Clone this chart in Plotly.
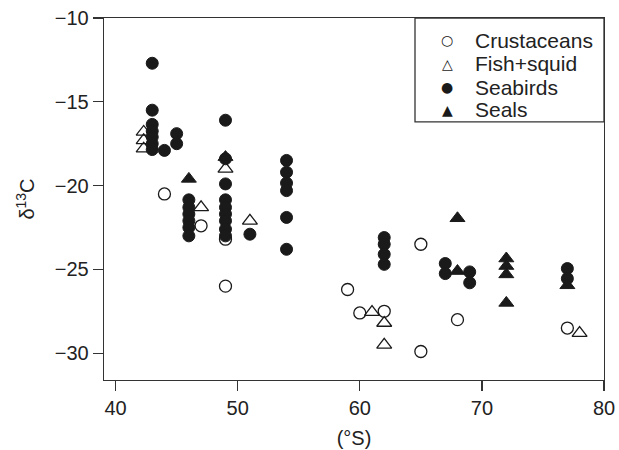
import plotly.graph_objects as go

# Crustaceans (open circles)
crus_x = [44, 47, 49, 49, 59, 60, 62, 65, 65, 68, 77]
crus_y = [-20.5, -22.4, -23.2, -26.0, -26.2, -27.6, -27.5, -23.5, -29.9, -28.0, -28.5]

# Fish+squid (open triangles)
fish_x = [42.3, 42.3, 42.3, 47, 49, 51, 61, 62, 62, 78]
fish_y = [-16.8, -17.3, -17.8, -21.3, -19.0, -22.1, -27.55, -28.2, -29.5, -28.8]

# Seabirds (filled circles)
bird_x = [43, 43, 43, 43, 43, 43, 43,
          44, 45, 45,
          46, 46, 46, 46, 46, 46,
          49, 49, 49, 49, 49, 49, 49, 49, 49,
          51,
          54, 54, 54, 54, 54, 54,
          62, 62, 62, 62,
          67, 67, 69, 69, 77, 77]
bird_y = [-12.7, -15.5, -16.35, -16.75, -17.1, -17.5, -17.85,
          -17.9, -16.9, -17.5,
          -20.85, -21.3, -21.7, -22.1, -22.5, -23.0,
          -16.1, -18.4, -19.9, -20.85, -21.3, -21.7, -22.1, -22.6, -23.0,
          -22.9,
          -18.5, -19.2, -19.85, -20.3, -21.9, -23.8,
          -23.1, -23.5, -24.1, -24.7,
          -24.65, -25.25, -25.15, -25.8, -24.95, -25.55]

# Seals (filled triangles)
seal_x = [46, 49, 68, 68, 72, 72, 72, 72, 77]
seal_y = [-19.6, -18.3, -21.95, -25.1, -24.35, -24.8, -25.3, -27.0, -25.95]

x_ticks = [40, 50, 60, 70, 80]
y_ticks = [-10, -15, -20, -25, -30]

legend_names = ["Crustaceans", "Fish+squid", "Seabirds", "Seals"]
legend_glyphs = ["○", "△", "●", "▲"]

INK = "#1a1a1a"
TXT = "#222222"
FONT = "Liberation Sans, Arial, Helvetica, sans-serif"

fig = go.Figure()
fig.add_trace(go.Scatter(x=crus_x, y=crus_y, mode="markers", name=legend_names[0],
                         marker=dict(symbol="circle-open", size=12, color=INK,
                                     line=dict(width=1.3, color=INK))))
fig.add_trace(go.Scatter(x=fish_x, y=fish_y, mode="markers", name=legend_names[1],
                         marker=dict(symbol="triangle-up-open", size=13, color=INK,
                                     line=dict(width=1.3, color=INK))))
fig.add_trace(go.Scatter(x=bird_x, y=bird_y, mode="markers", name=legend_names[2],
                         marker=dict(symbol="circle", size=12, color=INK,
                                     line=dict(width=1, color=INK))))
fig.add_trace(go.Scatter(x=seal_x, y=seal_y, mode="markers", name=legend_names[3],
                         marker=dict(symbol="triangle-up", size=13, color=INK,
                                     line=dict(width=1, color=INK))))

axis_common = dict(showline=True, linecolor="#333333", linewidth=1.3, mirror=True,
                   ticks="outside", ticklen=10, tickwidth=1.2, tickcolor="#333333",
                   showgrid=False, zeroline=False,
                   tickfont=dict(size=20, color=TXT, family=FONT))

fig.update_xaxes(range=[39.05, 80], tickvals=x_ticks,
                 title=dict(text="(°S)", font=dict(size=20, color=TXT, family=FONT), standoff=12),
                 **axis_common)
fig.update_yaxes(range=[-31.6, -10], tickvals=y_ticks,
                 title=dict(text="δ<sup>13</sup>C", font=dict(size=20, color=TXT, family=FONT), standoff=14),
                 **axis_common)

# Legend box and entries (drawn as shapes/text so spacing matches the original)
shapes = [dict(type="rect", xref="paper", yref="paper", x0=0.622, x1=1.0, y0=0.713, y1=1.0,
               line=dict(color="#333333", width=1.3), fillcolor="white", layer="above")]
annotations = []
row_y = [0.939, 0.874, 0.809, 0.746]
for name, glyph, yy in zip(legend_names, legend_glyphs, row_y):
    annotations.append(dict(xref="paper", yref="paper", x=0.686, y=yy, text=glyph,
                            showarrow=False, xanchor="center", yanchor="middle",
                            font=dict(size=14, color=INK, family="DejaVu Sans")))
    annotations.append(dict(xref="paper", yref="paper", x=0.738, y=yy, text=name,
                            showarrow=False, xanchor="left", yanchor="middle",
                            font=dict(size=21, color=TXT, family=FONT)))

fig.update_layout(
    width=619, height=450,
    margin=dict(l=104, r=15, t=18, b=70, autoexpand=False),
    paper_bgcolor="white", plot_bgcolor="white",
    font=dict(family=FONT, color=TXT),
    showlegend=False,
    hovermode=False,
    shapes=shapes,
    annotations=annotations,
)

fig.write_html("out.html", config={"displayModeBar": False, "staticPlot": True},
               post_script="document.body.style.margin='0';")
